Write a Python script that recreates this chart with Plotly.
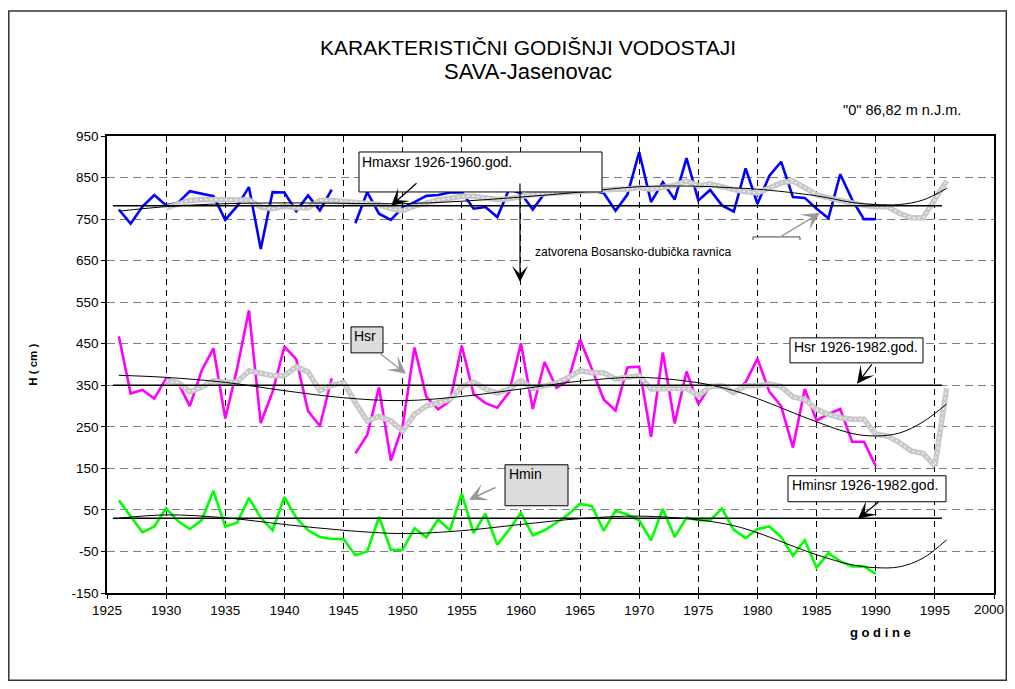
import plotly.graph_objects as go

# --- data
years = list(range(1926, 1991))
hmax = [773, 739, 780, 808, 783, 789, 817, 811, 805, 748, 781, 827, 678, 815, 814,
        769, 807, 771, 821, None, 740, 815, 763, 748, 778, 791, 806, 808, 814, 815,
        775, 779, 755, 822, 812, 773, 812, 815, 816, 817, 818, 813, 770, 809, 911,
        791, 839, 797, 897, 795, 820, 783, 768, 872, 787, 854, 888, 803, 801, 775,
        752, 858, 797, 750, 750]
hsr = [468, 330, 339, 318, 367, 357, 300, 385, 439, 270, 390, 530, 259, 334, 443,
       413, 288, 252, 367, None, 186, 230, 345, 169, 253, 441, 322, 292, 312, 445,
       329, 307, 296, 333, 451, 293, 406, 344, 361, 460, 389, 316, 289, 393, 395,
       226, 429, 258, 383, 305, 348, 345, 329, 357, 414, 335, 300, 200, 341, 265,
       281, 293, 214, 214, 156]
hmin = [73, 35, -4, 10, 54, 23, 4, 25, 96, 10, 19, 79, 31, 1, 81,
        31, 1, -15, -20, -20, -59, -50, 33, -46, -46, 6, -16, 27, 1, 89,
        -6, 41, -34, 2, 43, -11, 1, 19, 39, 65, 59, 0, 48, 39, 25,
        -23, 52, -15, 31, 25, 25, 53, 2, -18, 4, 10, -15, -60, -23, -89,
        -54, -74, -86, -86, -104]

# gray smoothed lines
ma_years = list(range(1930, 1997))
hmax_ma = [777, 785, 795, 797, 797, 796, 796, 796, 779, 775, 781, 777, 777, 795, 795,
           793, 791, 789, 785, 775, 770, 781, 789, 796, 800, 805, 805, 801, 797, 799,
           805, 809, 811, 813, 815, 817, 820, 822, 822, 822, 826, 822, 826, 831, 842,
           830, 835, 827, 821, 816, 813, 825, 837, 842, 825, 809, 801, 794, 788, 783,
           780, 780, 764, 753, 753, 796, 842]
hsr_ma = [360, 357, 334, 345, 361, 357, 357, 385, 379, 373, 373, 395, 382, 337, 350,
          357, 308, 264, 275, 264, 240, 280, 300, 307, 316, 347, 358, 341, 331, 341,
          361, 342, 347, 355, 369, 385, 380, 380, 365, 369, 373, 341, 341, 340, 343,
          325, 347, 349, 333, 349, 349, 353, 347, 322, 316, 292, 280, 272, 268, 268,
          232, 228, 212, 192, 186, 156, 343]

# thin black trend curves
tr_years = [1926, 1930, 1935, 1940, 1945, 1950, 1955, 1960, 1965, 1970, 1975, 1978,
            1980, 1985, 1988, 1990, 1992, 1994, 1996]
hmax_tr = [769, 780, 787, 789, 788, 787, 793, 803, 815, 828, 829, 825,
           822, 806, 790, 785, 785, 796, 824]
hsr_tr = [374, 369, 357, 337, 320, 313, 323, 341, 360, 369, 356, 337,
          318, 262, 234, 228, 235, 262, 305]
hmin_tr = [30, 38, 31, 15, 1, -7, 0, 15, 29, 35, 26, 12,
           -5, -58, -82, -89, -87, -66, -22]

# mean lines
mean_x = [1925.5, 1995.6]
hmax_mean = 782
hsr_mean = 350
hmin_mean = 30

y_ticks = [-150, -50, 50, 150, 250, 350, 450, 550, 650, 750, 850, 950]
x_ticks = [1925, 1930, 1935, 1940, 1945, 1950, 1955, 1960, 1965, 1970, 1975,
           1980, 1985, 1990, 1995, 2000]

FONT = "Liberation Sans, Arial, sans-serif"

# page offset (body margin) and figure size
OFF = 8
W, H = 1015 - 2 * OFF, 689 - 2 * OFF
# plot area in page pixels (for placing notes)
L, R, T, B = 107, 994, 136, 593.3
XR = [1925, 2000]
YR = [-150, 950]


def dx(p):
    return XR[0] + (p - L) / (R - L) * (XR[1] - XR[0])


def dy(p):
    return YR[0] + (B - p) / (B - T) * (YR[1] - YR[0])


def px(p):
    return (p - L) / (R - L)


def py(p):
    return (B - p) / (B - T)


fig = go.Figure()

series = [(hmax, "#0000ff", hmax_ma, hmax_tr, hmax_mean),
          (hsr, "#ff00ff", hsr_ma, hsr_tr, hsr_mean),
          (hmin, "#00ff00", None, hmin_tr, hmin_mean)]

for vals, col, ma, tr, mean in series:
    fig.add_trace(go.Scatter(x=years, y=vals, mode="lines",
                             line=dict(color=col, width=2.6), connectgaps=False))
for vals, col, ma, tr, mean in series:
    if ma is not None:
        fig.add_trace(go.Scatter(x=ma_years, y=ma, mode="lines",
                                 line=dict(color="#c8c8c8", width=5.5)))
        fig.add_trace(go.Scatter(x=ma_years, y=ma, mode="lines",
                                 line=dict(color="#efefef", width=1.6, dash="2px,3px")))
for vals, col, ma, tr, mean in series:
    fig.add_trace(go.Scatter(x=tr_years, y=tr, mode="lines", line_shape="spline",
                             line=dict(color="black", width=1)))
    fig.add_trace(go.Scatter(x=mean_x, y=[mean, mean], mode="lines",
                             line=dict(color="black", width=1.5)))

shapes = []
# outer frame
shapes.append(dict(type="rect", xref="paper", yref="paper",
                   x0=px(8.8), x1=px(1006.3), y0=py(680.5), y1=py(11),
                   line=dict(color="#333333", width=1.5), layer="below"))


def box(x0, y0, x1, y1, fill, line="black"):
    shapes.append(dict(type="rect", xref="x", yref="y",
                       x0=dx(x0), x1=dx(x1), y0=dy(y1), y1=dy(y0),
                       fillcolor=fill, line=dict(color=line, width=1 if line else 0),
                       layer="above"))


box(359, 152, 602, 192, "white")
box(790, 338, 923, 363, "white")
box(788, 476, 946, 502, "white")
box(351, 327, 383, 353, "#dcdcdc")
box(505, 465, 568, 506, "#dcdcdc")
# small callout box, partly hidden by the note's white background
box(753, 237, 800, 262, "white", "#444444")
box(530, 240, 807, 268, "white", None)

annotations = []


def note(text, x, y, size=14, xanchor="left", bold=False, angle=0):
    if bold:
        text = "<b>" + text + "</b>"
    annotations.append(dict(text=text, xref="paper", yref="paper", x=px(x), y=py(y),
                            showarrow=False, xanchor=xanchor, yanchor="middle",
                            textangle=angle, font=dict(family=FONT, size=size, color="black")))


def arrow(tx, ty, hx, hy, color, head=3, size=2.4, width=1.2):
    annotations.append(dict(text="", xref="x", yref="y", x=dx(hx), y=dy(hy),
                            ax=tx - hx, ay=ty - hy, showarrow=True,
                            arrowhead=head, arrowsize=size, arrowwidth=width,
                            arrowcolor=color))


note("KARAKTERISTIČNI GODIŠNJI VODOSTAJI", 528, 47, size=21, xanchor="center")
note("SAVA-Jasenovac", 528, 71, size=22, xanchor="center")
note('"0" 86,82 m n.J.m.', 841, 110, size=14.5)
note("Hmaxsr 1926-1960.god.", 360, 162)
note("Hsr 1926-1982.god.", 792, 347)
note("Hminsr 1926-1982.god.", 790, 485)
note("Hsr", 352, 336)
note("Hmin", 507, 474)
note("zatvorena Bosansko-dubička ravnica", 533, 252, size=12)
note("H ( cm )", 33, 365, size=11.5, xanchor="center", bold=True, angle=-90)
note("g o d i n e", 880, 633, size=13, xanchor="center", bold=True)
# last x label sits at the figure edge, keep it inside
note(str(x_ticks[-1]), 1006, 610, size=13.5, xanchor="right")

arrow(418, 182, 391, 206, "black")
arrow(520, 182, 520, 282, "black", size=2.2)
arrow(873, 363, 857, 384, "black")
arrow(880, 501, 858, 519, "black")
arrow(378, 352, 406, 374, "#999999", size=2, width=1.5)
arrow(497, 487, 469, 500, "#999999", size=2, width=1.5)
arrow(780, 237, 820, 213, "#999999", size=2, width=1.5)

fig.update_layout(
    width=W, height=H,
    margin=dict(l=L - OFF, r=W - (R - OFF), t=T - OFF, b=H - (B - OFF)),
    paper_bgcolor="white", plot_bgcolor="white",
    showlegend=False,
    font=dict(family=FONT, color="black"),
    shapes=shapes, annotations=annotations,
)
fig.update_xaxes(range=XR, tickvals=x_ticks, ticktext=[str(v) for v in x_ticks],
                 showline=True, linecolor="black",
                 linewidth=1.5, mirror=True, ticks="outside", ticklen=4,
                 tickcolor="black", showgrid=True, gridcolor="black", gridwidth=1,
                 griddash="6px,5px", zeroline=False, tickfont=dict(size=13.5))
fig.update_yaxes(range=YR, tickvals=y_ticks, ticktext=[str(v) for v in y_ticks],
                 showline=True, linecolor="black",
                 linewidth=1.5, mirror=True, ticks="outside", ticklen=4,
                 tickcolor="black", showgrid=True, gridcolor="#7f7f7f", gridwidth=1.2,
                 griddash="8px,5px", zeroline=False, tickfont=dict(size=13.5))

fig.write_html("out.html")
